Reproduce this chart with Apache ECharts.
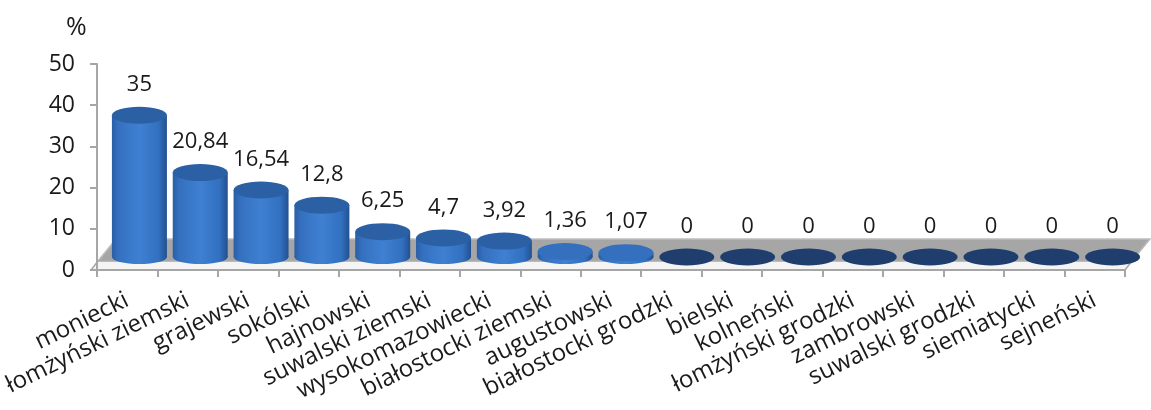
<!DOCTYPE html>
<html><head><meta charset="utf-8">
<script src="https://cdn.jsdelivr.net/npm/echarts@6/dist/echarts.min.js"></script>
<style>html,body{margin:0;padding:0;background:#fff}#c{width:1151px;height:410px}</style>
</head><body><div id="c"></div>
<script>
const categories = ['moniecki','łomżyński ziemski','grajewski','sokólski','hajnowski','suwalski ziemski','wysokomazowiecki','białostocki ziemski','augustowski','białostocki grodzki','bielski','kolneński','łomżyński grodzki','zambrowski','suwalski grodzki','siemiatycki','sejneński'];
const values = [35, 20.84, 16.54, 12.8, 6.25, 4.7, 3.92, 1.36, 1.07, 0, 0, 0, 0, 0, 0, 0, 0];
const yMin = 0, yMax = 50, yStep = 10;
const yUnit = '%';

const W = 1151, H = 410;
const G0 = {left: 91, right: 26, top: 64, bottom: 140};      // front plane (visible axes)
const G1 = {left: 109, right: 8, top: 54.5, bottom: 153};    // back plane (3D bars)
const FONT = 'Open Sans';
const TXT = '#1a1a1a';

const bodyGrad = () => new echarts.graphic.LinearGradient(0, 0, 1, 0, [
  {offset: 0, color: '#2a5ea6'},
  {offset: 0.12, color: '#3570bf'},
  {offset: 0.5, color: '#3f80d2'},
  {offset: 0.85, color: '#3270c0'},
  {offset: 1, color: '#23508f'}
]);
const fmt = v => String(v).replace('.', ',');

const chart = echarts.init(document.getElementById('c'), null, {renderer: 'canvas'});

const yF = H - G0.bottom, xL = G0.left, xR = W - G0.right;
const floorFront = [[xL, yF], [xR, yF], [xR + 7, yF - 9], [xL + 7, yF - 9]];
const floorTop = [[xL + 7, yF - 9], [xR + 7, yF - 9], [xR + 25, yF - 31], [xL + 25, yF - 31]];

chart.setOption({
  animation: false,
  textStyle: {fontFamily: FONT},
  title: {text: yUnit, left: 61, top: 10, textStyle: {fontFamily: FONT, fontSize: 25, fontWeight: 'normal', color: TXT}},
  grid: [
    {left: G0.left, right: G0.right, top: G0.top, bottom: G0.bottom, containLabel: false},
    {left: G1.left, right: G1.right, top: G1.top, bottom: G1.bottom, containLabel: false}
  ],
  xAxis: [
    {type: 'category', gridIndex: 0, data: categories, boundaryGap: true,
     axisLine: {show: true, lineStyle: {color: '#a6a6a6', width: 2}},
     axisTick: {show: true, length: 7, lineStyle: {color: '#a6a6a6', width: 2}},
     axisLabel: {interval: 0, rotate: 26, margin: 29, fontSize: 24, color: TXT, fontFamily: FONT},
     splitLine: {show: false}},
    {type: 'category', gridIndex: 1, data: categories, show: false}
  ],
  yAxis: [
    {type: 'value', gridIndex: 0, min: yMin, max: yMax, interval: yStep,
     axisLine: {show: true, lineStyle: {color: '#a6a6a6', width: 2}},
     axisTick: {show: true, length: 7, lineStyle: {color: '#a6a6a6', width: 2}},
     axisLabel: {fontSize: 23, color: TXT, margin: 22, fontFamily: FONT},
     splitLine: {show: false}},
    {type: 'value', gridIndex: 1, min: yMin, max: yMax, show: false}
  ],
  graphic: [
    {type: 'polygon', z: 0, shape: {points: floorTop}, style: {fill: '#a6a6a6', stroke: '#bdbdbd', lineWidth: 1.5}, silent: true},
    {type: 'polygon', z: 0, shape: {points: floorFront}, style: {fill: '#f4f4f4', stroke: '#a6a6a6', lineWidth: 1.5}, silent: true}
  ],
  series: [
    {type: 'scatter', name: 'base', xAxisIndex: 1, yAxisIndex: 1, silent: true, z: 3,
     data: values.map(v => v > 0 ? 0 : '-'),
     symbol: 'circle', symbolSize: [55, 14],
     itemStyle: {color: bodyGrad(), opacity: 1}},
    {type: 'bar', name: 'body', xAxisIndex: 1, yAxisIndex: 1, silent: true, z: 4,
     data: values, barWidth: 55,
     itemStyle: {color: bodyGrad()}},
    {type: 'scatter', name: 'cap', xAxisIndex: 1, yAxisIndex: 1, silent: true, z: 5,
     data: values.map(v => ({value: v, itemStyle: {color: v > 0 ? (v < 2 ? '#3470bd' : '#2c60a5') : '#1f3e6e'}})),
     symbol: 'circle', symbolSize: [55, 17],
     itemStyle: {opacity: 1},
     label: {show: true, position: 'top', distance: 11, fontSize: 22, color: TXT, fontFamily: FONT,
             formatter: p => fmt(values[p.dataIndex])}}
  ]
});
</script>
</body></html>
